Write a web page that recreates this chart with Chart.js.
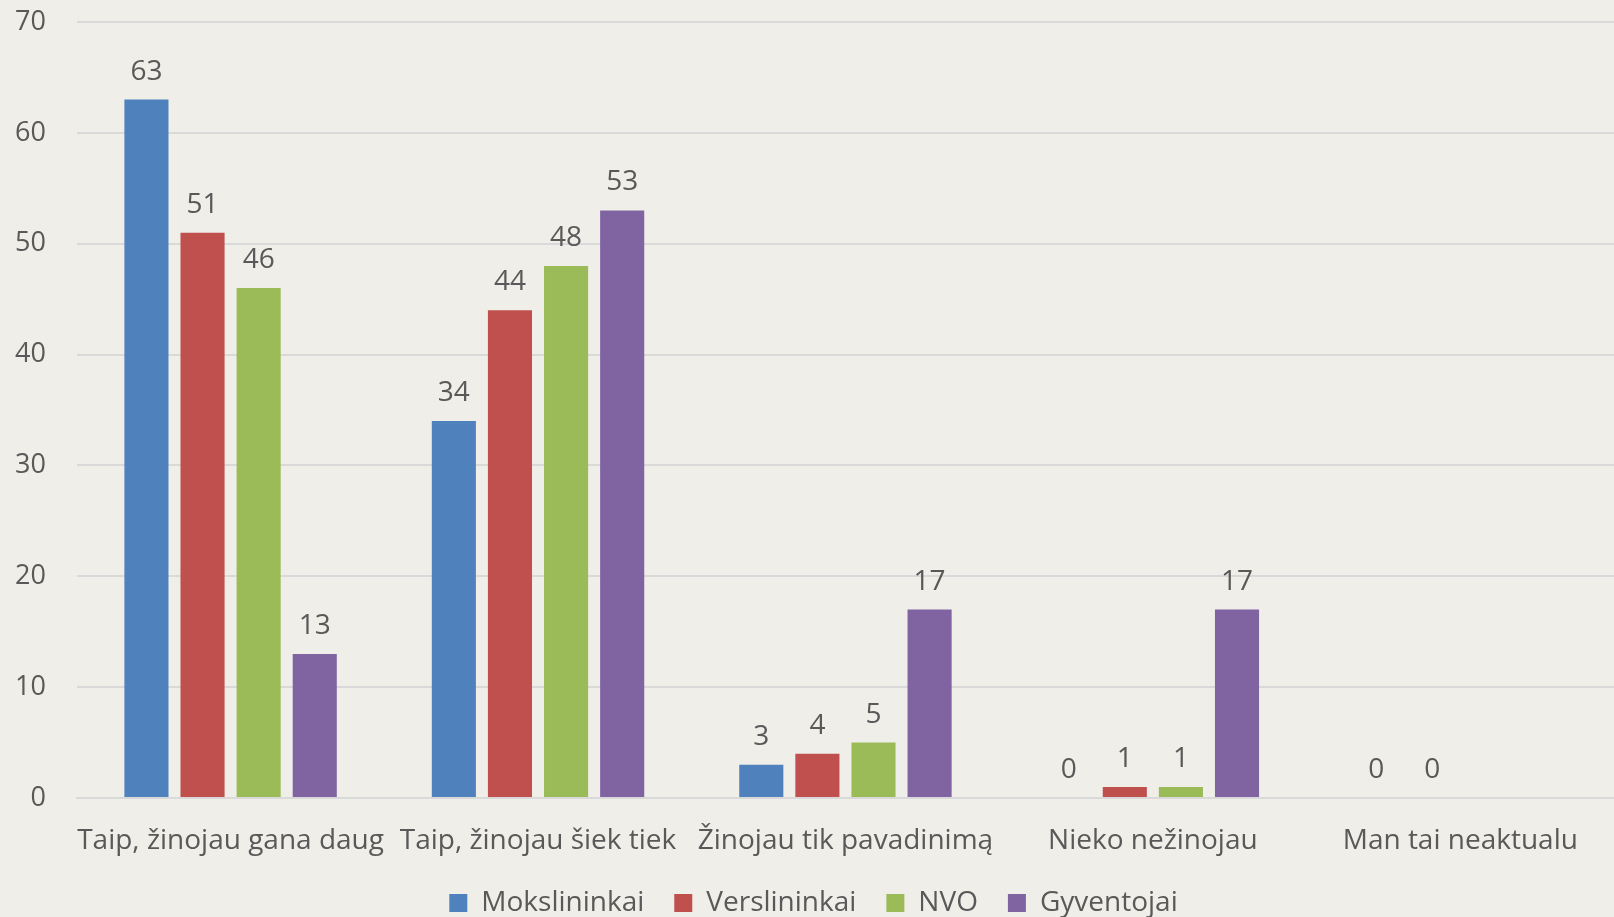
<!DOCTYPE html>
<html>
<head>
<meta charset="utf-8">
<script src="https://cdn.jsdelivr.net/npm/chart.js@4"></script>
<style>
  html, body { margin: 0; padding: 0; background: #efeee8; }
  #wrap { position: relative; width: 1614px; height: 917px; }
</style>
</head>
<body>
<div id="wrap"><canvas id="chart"></canvas></div>
<script>
// categories and series
const categories = ['Taip, žinojau gana daug', 'Taip, žinojau šiek tiek', 'Žinojau tik pavadinimą', 'Nieko nežinojau', 'Man tai neaktualu'];
const mokslininkai = [63, 34, 3, 0, 0];
const verslininkai = [51, 44, 4, 1, 0];
const nvo = [46, 48, 5, 1, null];
const gyventojai = [13, 53, 17, 17, null];

const TEXT = '#595959';
const FONT = "'Open Sans', 'Noto Sans', sans-serif";

// draws the value above each bar
const valueLabels = {
  id: 'valueLabels',
  afterDatasetsDraw(chart) {
    const { ctx } = chart;
    ctx.save();
    ctx.font = `28px ${FONT}`;
    ctx.fillStyle = TEXT;
    ctx.textAlign = 'center';
    ctx.textBaseline = 'alphabetic';
    chart.data.datasets.forEach((ds, i) => {
      const meta = chart.getDatasetMeta(i);
      meta.data.forEach((bar, j) => {
        const v = ds.data[j];
        if (v === null || v === undefined) return;
        ctx.fillText(String(v), bar.x, bar.y - 20);
      });
    });
    ctx.restore();
  },
};

const mk = (label, data, color) => ({
  label, data, backgroundColor: color, borderWidth: 0,
  categoryPercentage: 0.73, barPercentage: 0.786,
});

new Chart(document.getElementById('chart'), {
  type: 'bar',
  data: {
    labels: categories,
    datasets: [
      mk('Mokslininkai', mokslininkai, '#4f81bd'),
      mk('Verslininkai', verslininkai, '#c0504d'),
      mk('NVO', nvo, '#9bbb59'),
      mk('Gyventojai', gyventojai, '#8064a2'),
    ],
  },
  options: {
    responsive: true,
    maintainAspectRatio: false,
    animation: false,
    layout: { padding: { left: 13, right: 0, top: 22, bottom: 0 } },
    plugins: {
      tooltip: { enabled: false },
      legend: {
        position: 'bottom',
        maxHeight: 58,
        labels: {
          color: TEXT, font: { family: FONT, size: 28 },
          boxWidth: 18, boxHeight: 18, padding: 30,
        },
      },
    },
    scales: {
      x: {
        grid: { display: false, drawTicks: false },
        border: { color: '#d9d9d9', width: 2 },
        ticks: { color: TEXT, font: { family: FONT, size: 28 }, padding: 26, maxRotation: 0, autoSkip: false },
        afterFit(scale) { scale.height = 61; },
      },
      y: {
        min: 0, max: 70,
        ticks: { stepSize: 10, color: TEXT, font: { family: FONT, size: 27 }, padding: 2 },
        grid: { color: '#d9d9d9', lineWidth: 2, drawTicks: true, tickLength: 29, tickColor: 'transparent' },
        border: { display: false },
      },
    },
  },
  plugins: [valueLabels],
});
</script>
</body>
</html>
